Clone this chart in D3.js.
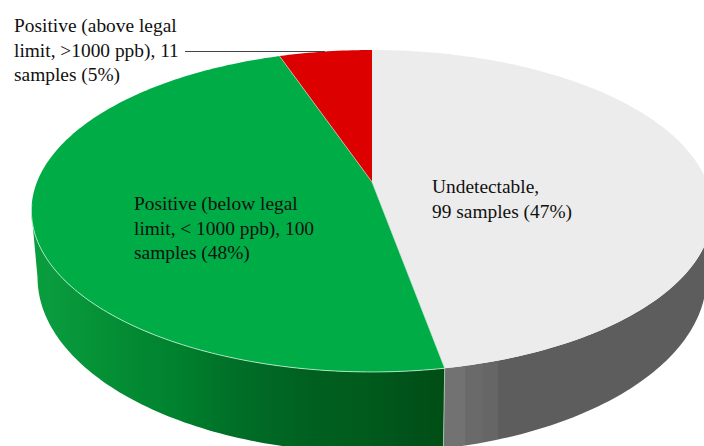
<!DOCTYPE html>
<html><head><meta charset="utf-8"><style>html,body{margin:0;background:#fff}svg{display:block}text{font-family:"Liberation Serif",serif;fill:#111}</style>
<script src="https://cdn.jsdelivr.net/npm/d3@7/dist/d3.min.js"></script></head><body><script>
const categories=["Undetectable","Positive (below legal limit)","Positive (above legal limit)"];
const sampleCounts=[99,100,11];
const topColors=["#ececec","#00ac45","#dc0000"];
const grayBandEdges=[444,465,483,498,704];
const grayBandColors=["#727272","#6a6a6a","#666666","#5d5d5d"];
const greenBandEdges=[31,70,100,130,170,200,230,270,310,370,410,444];
const greenBandColors=["#0a9e3f","#08983b","#059136","#048a33","#00832f","#007a2b","#007028","#006824","#006020","#005a1c","#00521a","#004e14"];
const labelLines=[["Undetectable,","99 samples (47%)"],["Positive (below legal","limit, < 1000 ppb), 100","samples (48%)"],["Positive (above legal","limit, >1000 ppb), 11","samples (5%)"]];
const labelPos=[[432,193],[134,210],[14,32]];
const W=704,H=446;
const svg=d3.select("body").append("svg").attr("width",W).attr("height",H);
const defs=svg.append("defs");
function bandGradient(id,edges,colors,stepped){
  const x0=edges[0],x1=edges[edges.length-1],off=x=>(x-x0)/(x1-x0);
  const g=defs.append("linearGradient").attr("id",id).attr("gradientUnits","userSpaceOnUse")
    .attr("x1",x0).attr("x2",x1).attr("y1",0).attr("y2",0);
  colors.forEach((c,i)=>{
    g.append("stop").attr("offset",off(edges[i])).attr("stop-color",c);
    if(stepped)g.append("stop").attr("offset",off(edges[i+1])).attr("stop-color",c);
  });
}
bandGradient("grayWall",grayBandEdges,grayBandColors,true);
bandGradient("greenWall",greenBandEdges,greenBandColors,false);
const disc=(R,a,b,c)=>t=>{const u=Math.sin(t),v=-Math.cos(t),d=1+c*v;return [372+R*u/d,(a*v+b)/d]};
const topRim=disc(335,123,182,-.18), botRim=disc(329,125,246,-.18);
const arcs=d3.pie().sort(null)(sampleCounts);
const line=d3.line();
const samples=(s,e)=>{const n=Math.max(2,Math.ceil((e-s)/(Math.PI/180)));return d3.range(n+1).map(i=>s+(e-s)*i/n)};
const deg=Math.PI/180;
const wall=(s,e,fill)=>{
  const pts=[...samples(s,e).map(topRim),...samples(s,e).reverse().map(botRim)];
  svg.append("path").attr("d",line(pts)+"Z").attr("fill",fill);
};
wall(100.4*deg,arcs[0].endAngle,"url(#grayWall)");
wall(arcs[1].startAngle,259.6*deg,"url(#greenWall)");
const seam=arcs[0].endAngle;
svg.append("path").attr("d",line([topRim(seam),botRim(seam)])).attr("stroke","#b8d0c0").attr("stroke-width",.8).attr("fill","none");
const apex=[372,182];
arcs.forEach((d,i)=>{
  const pts=[apex,...samples(d.startAngle,d.endAngle).map(topRim)];
  svg.append("path").attr("d",line(pts)+"Z").attr("fill",topColors[i]);
});
svg.append("path").attr("d",line(samples(arcs[1].startAngle,262*deg).map(topRim))).attr("fill","none").attr("stroke","#c8f0d8").attr("stroke-width",.8);
[arcs[1].startAngle,arcs[1].endAngle].forEach(t=>svg.append("path").attr("d",line([apex,topRim(t)])).attr("stroke","#d0e8d8").attr("stroke-width",.6));
svg.append("path").attr("d",line([[185,51.5],[325,51.5]])).attr("stroke","#444").attr("stroke-width",1).attr("fill","none");
labelLines.forEach((ls,i)=>{
  const t=svg.append("text").attr("font-size",19.4);
  ls.forEach((s,j)=>t.append("tspan").attr("x",labelPos[i][0]).attr("y",labelPos[i][1]+j*24.5).text(s));
});
</script></body></html>
